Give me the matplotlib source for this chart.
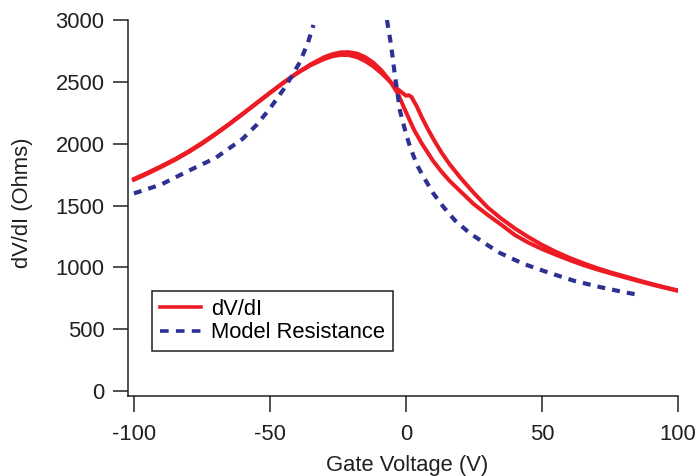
import matplotlib
matplotlib.use('Agg')
import matplotlib.pyplot as plt
from matplotlib.lines import Line2D

# dV/dI, two gate sweeps (one has the small kink near 0 V)
sweep_a_v = [-100, -95, -90, -85, -80, -75, -70, -65, -60, -55, -50, -45, -40, -35, -30, -27, -24, -21,
             -18, -15, -12, -9, -6, -3, -1, 0, 1, 2, 4, 6, 8, 10, 13, 16, 20, 25, 30, 35, 40, 45, 50,
             55, 60, 65, 70, 75, 80, 85, 90, 95, 100]
sweep_a_r = [1715, 1765, 1818, 1874, 1937, 2006, 2081, 2160, 2243, 2328, 2412, 2495, 2570, 2635, 2685, 2707,
             2718, 2716, 2700, 2668, 2625, 2570, 2505, 2440, 2405, 2388, 2392, 2378, 2300, 2205, 2120,
             2040, 1930, 1835, 1725, 1600, 1485, 1395, 1315, 1245, 1182, 1127, 1078, 1035, 996, 961,
             930, 898, 868, 840, 813]

sweep_b_v = [-100, -95, -90, -85, -80, -75, -70, -65, -60, -55, -50, -45, -40, -35, -30, -27, -24, -21,
             -18, -15, -12, -9, -6, -3, 0, 3, 6, 10, 13, 16, 20, 25, 30, 35, 40, 45, 50, 55, 60, 65,
             70, 75, 80, 85, 90, 95, 100]
sweep_b_r = [1708, 1758, 1812, 1868, 1931, 2000, 2076, 2156, 2240, 2325, 2410, 2493, 2572, 2642, 2700, 2724,
             2738, 2740, 2728, 2700, 2655, 2592, 2510, 2405, 2255, 2110, 1995, 1860, 1775, 1700, 1615,
             1510, 1425, 1345, 1262, 1200, 1148, 1103, 1060, 1020, 985, 953, 922, 892, 863, 836, 810]

# model resistance, diverges near the Dirac point so two branches
model_left_v = [-100, -90, -80, -70, -60, -55, -50, -45, -42, -39, -36, -34]
model_left_r = [1598, 1670, 1780, 1885, 2040, 2150, 2285, 2440, 2545, 2660, 2820, 2960]
model_right_v = [-7, -5.5, -4, -2.2, 0, 1.5, 4, 6.4, 10, 13.7, 18, 23.5, 30, 34.6, 43, 52.9, 62, 71.3, 80, 86]
model_right_r = [3000, 2800, 2540, 2265, 2080, 1975, 1830, 1733, 1600, 1490, 1380, 1275, 1180, 1116, 1030,
                 954, 890, 841, 800, 776]

RED = '#ED1C24'
BLUE = '#2E3192'
INK = '#231F20'

plt.rcParams['font.family'] = ['Liberation Sans', 'DejaVu Sans']
plt.rcParams['font.size'] = 15.8
plt.rcParams['axes.unicode_minus'] = False

fig = plt.figure(figsize=(6.96, 4.76), dpi=100)
ax = fig.add_axes([128 / 696, 80 / 476, 550 / 696, 376 / 476])

ax.plot(sweep_a_v, sweep_a_r, color=RED, lw=2.9, solid_joinstyle='round')
ax.plot(sweep_b_v, sweep_b_r, color=RED, lw=2.9, solid_joinstyle='round')
dash = dict(color=BLUE, lw=3.0, ls=(0, (1.9, 1.7)), dash_capstyle='butt')
ax.plot(model_left_v, model_left_r, **dash)
ax.plot(model_right_v, model_right_r, **dash)

ax.set_xlim(-102.2, 100)
ax.set_ylim(-40, 3000)
ax.set_xticks([-100, -50, 0, 50, 100])
ax.set_yticks([0, 500, 1000, 1500, 2000, 2500, 3000])

for side in ['top', 'right']:
    ax.spines[side].set_visible(False)
for side in ['left', 'bottom']:
    ax.spines[side].set_linewidth(1.1)
    ax.spines[side].set_color(INK)
ax.tick_params(axis='x', direction='out', length=11.5, width=1.1, pad=9, colors=INK)
ax.tick_params(axis='y', direction='out', length=11, width=1.1, pad=6, colors=INK)

ax.set_xlabel('Gate Voltage (V)', color=INK)
ax.set_ylabel('dV/dI (Ohms)', color=INK)
ax.xaxis.set_label_coords(0.507, -0.156)
ax.yaxis.set_label_coords(-0.172, 0.515)

handles = [Line2D([], [], color=RED, lw=2.6),
           Line2D([], [], color=BLUE, lw=2.6, ls=(0, (2.4, 2.0)))]
leg = ax.legend(handles, ['dV/dI', 'Model Resistance'], loc='lower left',
                bbox_to_anchor=(0.0436, 0.12), borderaxespad=0, fancybox=False,
                framealpha=1, edgecolor=INK, handlelength=1.9, handletextpad=0.45,
                labelspacing=0.1, borderpad=0.35, fontsize=15.8)
leg.get_frame().set_linewidth(1.1)

fig.savefig('out.png', dpi=100)
